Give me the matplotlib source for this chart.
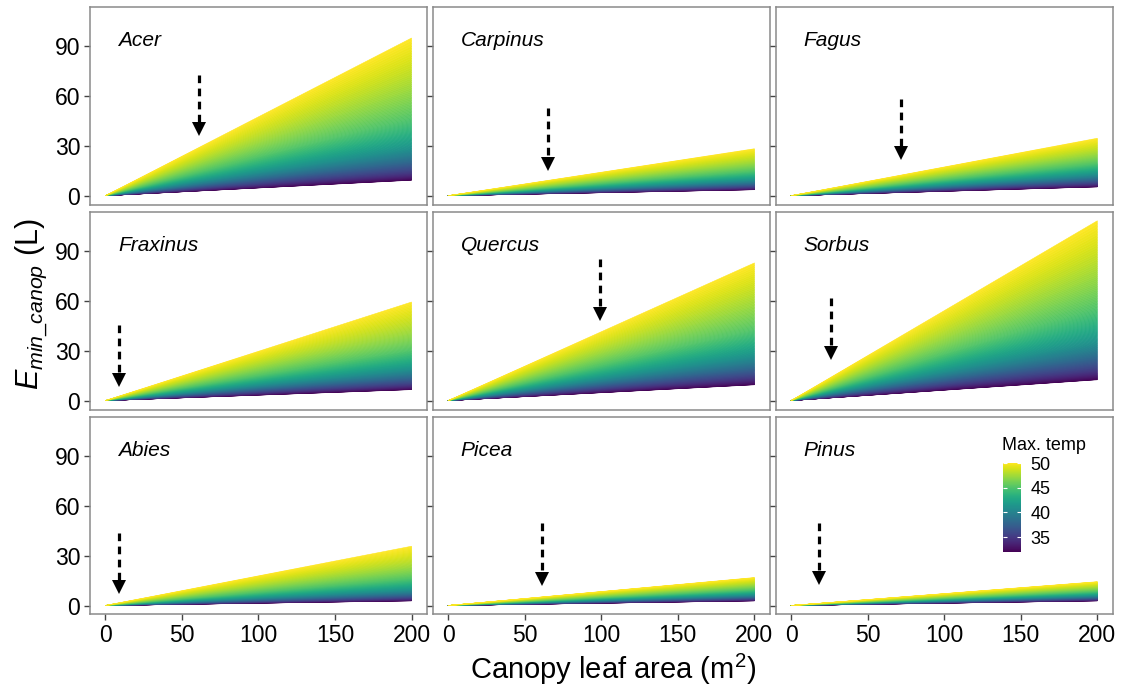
import numpy as np
import matplotlib.pyplot as plt
import matplotlib as mpl
from matplotlib.collections import PolyCollection

plt.rcParams['font.family'] = ['Liberation Sans', 'DejaVu Sans']
plt.rcParams['mathtext.fontset'] = 'custom'
plt.rcParams['mathtext.rm'] = 'Liberation Sans'
plt.rcParams['mathtext.it'] = 'Liberation Sans:italic'

# --- data ------------------------------------------------------------------
species = ['Acer', 'Carpinus', 'Fagus',
           'Fraxinus', 'Quercus', 'Sorbus',
           'Abies', 'Picea', 'Pinus']
# E_min_canop (L) at 200 m2 leaf area for the hottest / coolest max. temp
e_hot_200 = [94.7, 28.2, 34.5, 59.2, 82.7, 108.0, 35.6, 16.8, 14.3]
e_cool_200 = [9.3, 3.6, 5.3, 6.6, 9.5, 12.5, 2.8, 2.8, 2.8]
# dashed arrows: leaf area, start and tip of the arrow
arrow_x = [61, 65, 72, 9, 99, 26, 9, 61, 18]
arrow_top = [72.6, 52.4, 58.2, 45.3, 85.0, 61.8, 43.5, 49.3, 49.5]
arrow_tip = [35.5, 14.8, 21.1, 8.2, 47.7, 24.5, 6.8, 11.8, 12.3]

leaf_area_max = 200
temp_knots = [32, 37, 41, 45, 50]
temp_level = [0.0, 0.29, 0.48, 0.69, 1.0]
temp_min, temp_max = 32, 50

x_ticks = [0, 50, 100, 150, 200]
y_ticks = [0, 30, 60, 90]

# --- figure ------------------------------------------------------------------
fig, axes = plt.subplots(3, 3, figsize=(11.25, 6.92), dpi=100)
fig.subplots_adjust(left=0.080, right=0.989, top=0.990, bottom=0.112,
                    wspace=0.018, hspace=0.036)

cmap = mpl.colormaps['viridis']
norm = mpl.colors.Normalize(temp_min, temp_max)
temps = np.linspace(temp_min, temp_max, 150)
levels = np.interp(temps, temp_knots, temp_level)
ylim = (-5.4, 113.4)
head_pt = 10.5

for i, ax in enumerate(axes.flat):
    lo, hi = np.log(e_cool_200[i]), np.log(e_hot_200[i])
    e200 = np.exp(lo + levels * (hi - lo))
    polys, cols = [], []
    for k in range(len(temps) - 1):
        polys.append([(0, 0), (leaf_area_max, e200[k]), (leaf_area_max, e200[k + 1])])
        cols.append(cmap(norm(0.5 * (temps[k] + temps[k + 1]))))
    ax.add_collection(PolyCollection(polys, facecolors=cols, edgecolors=cols,
                                     linewidths=0.4))

    ax.set_xlim(-10, 210)
    ax.set_ylim(*ylim)
    ax.set_xticks(x_ticks)
    ax.set_yticks(y_ticks)
    for s in ax.spines.values():
        s.set_color('#8a8a8a')
        s.set_linewidth(1.1)
    ax.tick_params(length=4, width=1, color='#444444', labelsize=16.5, pad=3)
    row, col = divmod(i, 3)
    if col != 0:
        ax.tick_params(labelleft=False)
    if row != 2:
        ax.tick_params(bottom=False, labelbottom=False)

    ax.text(0.083, 0.83, species[i], transform=ax.transAxes, fontsize=15,
            style='italic', ha='left', va='center')

    # arrow: dashed shaft and solid head
    px_per_unit = ax.bbox.height / (ylim[1] - ylim[0])
    head_len = head_pt * fig.dpi / 72 / px_per_unit
    ax.plot([arrow_x[i], arrow_x[i]], [arrow_top[i], arrow_tip[i] + head_len * 0.9],
            color='black', lw=2.3, ls=(0, (2.4, 1.7)), solid_capstyle='butt')
    ax.plot([arrow_x[i]], [arrow_tip[i] + head_len / 2], marker='v',
            ms=head_pt, color='black', mec='black', mew=0)

fig.text(0.028, 0.56, r'$E_{min\_canop}$ (L)', rotation=90, fontsize=22,
         ha='center', va='center')
fig.text(0.545, 0.032, r'Canopy leaf area (m$^2$)', fontsize=21,
         ha='center', va='center')

# colour bar inside the last panel
cax = fig.add_axes([1003 / 1125, 1 - 552 / 692, 18 / 1125, 89 / 692])
cb = mpl.colorbar.ColorbarBase(cax, cmap=cmap, norm=norm, ticks=[35, 40, 45, 50])
cb.outline.set_visible(False)
cax.tick_params(labelsize=13, length=3, direction='in', color='white', pad=7,
                left=True)
fig.text(1002 / 1125, 1 - 445 / 692, 'Max. temp', fontsize=13,
         ha='left', va='center')

fig.savefig('out.png', dpi=100)
